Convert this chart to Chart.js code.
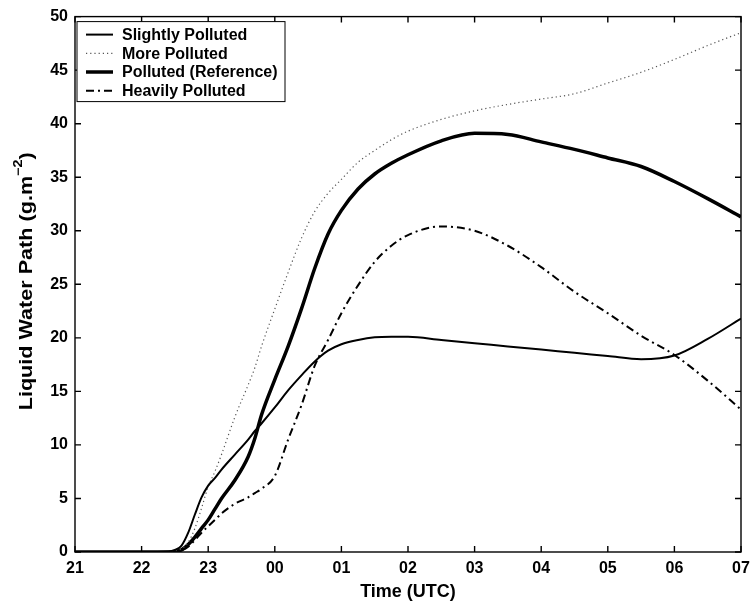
<!DOCTYPE html>
<html>
<head>
<meta charset="utf-8">
<script src="https://cdn.jsdelivr.net/npm/chart.js@4.4.0/dist/chart.umd.min.js"></script>
<style>
  body { margin: 0; background: #fff; }
  #wrap { width: 751px; height: 603px; }
</style>
</head>
<body>
<div id="wrap"><canvas id="lwpChart" width="751" height="603"></canvas></div>
<script>
// hours after 21 UTC
var hours = [0, 0.5, 1, 1.4, 1.5, 1.6, 1.7, 1.8, 1.9, 2.0, 2.1, 2.2, 2.4, 2.6, 2.7, 2.8, 3.0, 3.2, 3.4, 3.6, 3.8, 4.0, 4.25, 4.5, 4.75, 5, 5.5, 6, 6.5, 7, 7.5, 8, 8.5, 9, 9.5, 10];
var hourLabels = ['21', '22', '23', '00', '01', '02', '03', '04', '05', '06', '07'];

var slightly = [0, 0, 0, 0.05, 0.2, 0.6, 1.8, 3.5, 5.1, 6.2, 6.9, 7.7, 9.1, 10.5, 11.3, 12.0, 13.5, 15.1, 16.5, 17.8, 18.8, 19.4, 19.8, 20.05, 20.1, 20.1, 19.8, 19.5, 19.2, 18.9, 18.6, 18.3, 18.0, 18.35, 19.9, 21.8];
var more = [0, 0, 0, 0.02, 0.1, 0.3, 0.9, 2.2, 4.1, 6.1, 7.5, 9.1, 12.6, 15.6, 17.2, 19.2, 22.7, 26.1, 29.3, 31.8, 33.5, 34.8, 36.4, 37.5, 38.5, 39.3, 40.4, 41.2, 41.8, 42.3, 42.8, 43.8, 44.8, 46.0, 47.3, 48.5];
var reference = [0, 0, 0, 0, 0.05, 0.2, 0.7, 1.4, 2.2, 3.0, 4.0, 5.0, 6.7, 8.9, 10.6, 12.8, 16.1, 19.2, 22.7, 26.5, 29.7, 31.9, 33.9, 35.3, 36.3, 37.1, 38.4, 39.1, 39.0, 38.3, 37.6, 36.8, 36.0, 34.6, 33.0, 31.3];
var heavily = [0, 0, 0, 0, 0.05, 0.15, 0.5, 1.1, 1.8, 2.4, 3.0, 3.6, 4.5, 5.1, 5.5, 5.9, 7.1, 10.5, 13.7, 17.4, 19.8, 22.3, 24.9, 27.1, 28.6, 29.6, 30.4, 30.0, 28.6, 26.6, 24.3, 22.3, 20.2, 18.4, 16.0, 13.3];

function pts(vals) {
    return vals.map(function (v, i) { return { x: hours[i], y: v }; });
}

var FONT = 'Liberation Sans, Arial, Helvetica, sans-serif';

// frame with inward ticks on all four sides, like the original figure
var framePlugin = {
    id: 'frame',
    afterDatasetsDraw: function (chart) {
        var a = chart.chartArea, ctx = chart.ctx;
        var xs = chart.scales.x, ys = chart.scales.y;
        ctx.save();
        ctx.strokeStyle = '#000';
        ctx.lineWidth = 1.4;
        ctx.strokeRect(a.left, a.top, a.right - a.left, a.bottom - a.top);
        ctx.beginPath();
        xs.ticks.forEach(function (t) {
            var px = xs.getPixelForValue(t.value);
            ctx.moveTo(px, a.bottom); ctx.lineTo(px, a.bottom - 6);
            ctx.moveTo(px, a.top); ctx.lineTo(px, a.top + 6);
        });
        ys.ticks.forEach(function (t) {
            var py = ys.getPixelForValue(t.value);
            ctx.moveTo(a.left, py); ctx.lineTo(a.left + 6, py);
            ctx.moveTo(a.right, py); ctx.lineTo(a.right - 6, py);
        });
        ctx.stroke();

        // y axis title with superscript, stretched along the text like the original
        var cy = (a.top + a.bottom) / 2;
        ctx.translate(27, cy - 3);
        ctx.rotate(-Math.PI / 2);
        ctx.scale(1.2, 1);
        ctx.fillStyle = '#000';
        ctx.textBaseline = 'middle';
        var main = 'Liquid Water Path (g.m';
        ctx.font = 'bold 18px ' + FONT;
        var w1 = ctx.measureText(main).width;
        ctx.font = 'bold 12px ' + FONT;
        var w2 = ctx.measureText('\u22122').width;
        ctx.font = 'bold 18px ' + FONT;
        var w3 = ctx.measureText(')').width;
        var x = -(w1 + w2 + w3) / 2;
        ctx.fillText(main, x, 0);
        ctx.font = 'bold 12px ' + FONT;
        ctx.fillText('\u22122', x + w1, -8);
        ctx.font = 'bold 18px ' + FONT;
        ctx.fillText(')', x + w1 + w2, 0);
        ctx.restore();
    }
};

// legend box inside the top left corner
var boxLegend = {
    id: 'boxLegend',
    afterDraw: function (chart) {
        var a = chart.chartArea, ctx = chart.ctx;
        var x0 = a.left + 2, y0 = a.top + 5, w = 208, h = 80;
        ctx.save();
        ctx.fillStyle = '#fff';
        ctx.fillRect(x0, y0, w, h);
        ctx.strokeStyle = '#000';
        ctx.lineWidth = 1;
        ctx.strokeRect(x0, y0, w, h);
        ctx.font = 'bold 16px ' + FONT;
        ctx.textBaseline = 'middle';
        chart.data.datasets.forEach(function (ds, i) {
            var y = y0 + 13 + i * 18.7;
            ctx.beginPath();
            ctx.setLineDash(ds.borderDash || []);
            ctx.lineWidth = ds.borderWidth;
            ctx.strokeStyle = ds.borderColor;
            ctx.moveTo(x0 + 9, y);
            ctx.lineTo(x0 + 36, y);
            ctx.stroke();
            ctx.setLineDash([]);
            ctx.fillStyle = '#000';
            ctx.fillText(ds.label, x0 + 45, y + 1);
        });
        ctx.restore();
    }
};

var ctx = document.getElementById('lwpChart').getContext('2d');
var myChart = new Chart(ctx, {
    type: 'line',
    data: {
        datasets: [{
            label: 'Slightly Polluted',
            data: pts(slightly),
            borderColor: '#000',
            borderWidth: 2
        }, {
            label: 'More Polluted',
            data: pts(more),
            borderColor: '#555',
            borderWidth: 1.2,
            borderDash: [1.2, 3]
        }, {
            label: 'Polluted (Reference)',
            data: pts(reference),
            borderColor: '#000',
            borderWidth: 3.5
        }, {
            label: 'Heavily Polluted',
            data: pts(heavily),
            borderColor: '#000',
            borderWidth: 2,
            borderDash: [8, 4, 2, 4]
        }]
    },
    options: {
        responsive: false,
        animation: false,
        layout: { padding: { left: 8, top: 16, right: 10, bottom: 0 } },
        elements: {
            point: { radius: 0 },
            line: { cubicInterpolationMode: 'monotone', fill: false }
        },
        plugins: {
            legend: { display: false },
            tooltip: { enabled: false }
        },
        scales: {
            x: {
                type: 'linear',
                min: 0,
                max: 10,
                afterFit: function (s) {
                    s.height = 51;
                    s.paddingLeft = 0;
                    s.paddingRight = 0;
                },
                grid: { display: false, drawTicks: false },
                border: { display: false },
                ticks: {
                    stepSize: 1,
                    padding: 7,
                    color: '#000',
                    font: { family: FONT, size: 16, weight: 'bold' },
                    callback: function (v) { return hourLabels[v]; }
                },
                title: {
                    display: true,
                    text: 'Time (UTC)',
                    color: '#000',
                    padding: { top: 0, bottom: 0 },
                    font: { family: FONT, size: 18, weight: 'bold' }
                }
            },
            y: {
                min: 0,
                max: 50,
                afterFit: function (s) { s.width = 67; },
                grid: { display: false, drawTicks: false },
                border: { display: false },
                ticks: {
                    stepSize: 5,
                    padding: 7,
                    color: '#000',
                    font: { family: FONT, size: 16, weight: 'bold' }
                }
            }
        }
    },
    plugins: [framePlugin, boxLegend]
});
</script>
</body>
</html>
